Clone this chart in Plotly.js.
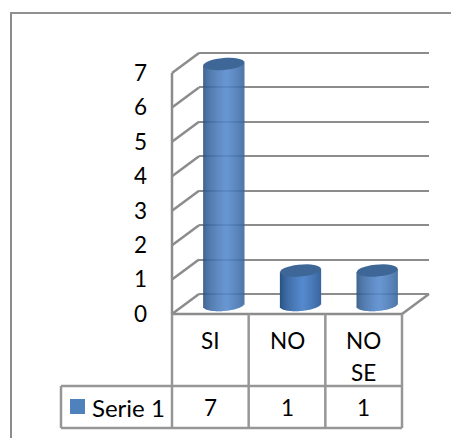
<!DOCTYPE html>
<html><head><meta charset="utf-8">
<script src="https://cdn.plot.ly/plotly-3.0.1.min.js"></script>
<style>html,body{margin:0;padding:0;background:#fff}</style></head>
<body><div id="chart" style="width:451px;height:438px"></div>
<script>
const categories = ['SI', 'NO', 'NO SE'];
const serieName = 'Serie 1';
const serieValues = [7, 1, 1];
const yTicks = [0, 1, 2, 3, 4, 5, 6, 7];

const W = 451, H = 438, FONT = 'Lato, Carlito, sans-serif', FS = 22.5;
const GRID = '#8c8c8c', TABLE = '#969696', BLUE = '#4F81BD';
// front plane and depth of the fake 3D box, in page pixels
const FL = 172, FR = 402, FB = 314, FT = 73, DX = 27, DY = 20;
const unitX = (FR - FL) / categories.length, unitY = (FB - FT) / 7;
const px = p => p / W, py = p => 1 - p / H;
const dxData = p => p / unitX, dyData = p => p / unitY;

// cylinder geometry
const RX = 20.5, RY = 6, TILT = -1.6, SHIFTX = 13.5, SHIFTY = 9;
const shade = u => { // u in [-1,1]; dark edges, light centre-right
  const t = Math.pow(Math.max(0, 1 - Math.abs(u - 0.12) / 1.12), 0.6);
  const a = [38, 76, 122], b = [86, 138, 206];
  return `rgb(${a.map((c, i) => Math.round(c + (b[i] - c) * t)).join(',')})`;
};

const sx = [], sy = [], sb = [], sc = [], sw = [];
const cx = categories.map((c, i) => i + dxData(SHIFTX));
serieValues.forEach((v, i) => {
  for (let p = -RX; p < RX; p += 1) {
    const mid = p + 0.5, u = mid / RX, curve = Math.sqrt(Math.max(0, 1 - u * u));
    const bottom = dyData(SHIFTY) - dyData(TILT * u + RY * curve);
    const top = v + dyData(SHIFTY) - dyData(TILT * u);
    sx.push(cx[i] + dxData(mid));
    sb.push(bottom); sy.push(top - bottom);
    sc.push(shade(u)); sw.push(dxData(1.25));
  }
});

const ellipse = (v, i) => {
  const pts = [];
  for (let a = 0; a < 360; a += 12) {
    const r = a * Math.PI / 180, u = Math.cos(r);
    const xx = cx[i] + dxData(RX * u);
    const yy = v + dyData(SHIFTY) - dyData(TILT * u + RY * Math.sin(r));
    pts.push((a ? 'L' : 'M') + xx.toFixed(4) + ',' + yy.toFixed(4));
  }
  return { type: 'path', xref: 'x2', yref: 'y2', path: pts.join(' ') + ' Z', fillcolor: '#3E6797', line: { width: 0 }, layer: 'above' };
};
const pl = (x0, y0, x1, y1, color, width) => ({ type: 'line', xref: 'paper', yref: 'paper', x0: px(x0), y0: py(y0), x1: px(x1), y1: py(y1), line: { color, width }, layer: 'below' });

const shapes = [];
// outer frame: only left and top edges fall inside the picture
shapes.push(pl(11, 13, 11, H, '#8c8c8c', 2), pl(10, 13, W, 13, '#909090', 2));
// wall diagonals and floor
yTicks.forEach(t => {
  const y = FB - t * unitY;
  shapes.push(pl(FL, y, FL + DX, y - DY, GRID, 2.5));
});
shapes.push(pl(FR, FB, FR + DX, FB - DY, GRID, 2.5));
shapes.push(pl(FL, FB, FL, FT, GRID, 2.5));
shapes.push(pl(FL, FB, FR, FB, GRID, 2.5));
// data table
[FL, FL + unitX, FL + 2 * unitX, FR].forEach(x => shapes.push(pl(x, FB, x, 428, TABLE, 2.5)));
shapes.push(pl(61, 386, FR, 386, TABLE, 2.5), pl(61, 428, FR, 428, TABLE, 2.5), pl(61, 386, 61, 428, TABLE, 2.5));
// legend key
shapes.push({ type: 'rect', xref: 'paper', yref: 'paper', x0: px(70), x1: px(85), y0: py(399), y1: py(414), fillcolor: BLUE, line: { width: 0 }, layer: 'below' });
serieValues.forEach((v, i) => shapes.push(ellipse(v, i)));

const ann = (text, x, y) => ({ text, x: px(x), y: py(y), xref: 'paper', yref: 'paper', showarrow: false, xanchor: 'center', yanchor: 'middle', font: { family: FONT, size: FS, color: '#000' } });
const annotations = [];
categories.forEach((c, i) => {
  const cxp = FL + (i + 0.5) * unitX;
  c.split(' ').forEach((w, j) => annotations.push(ann(w, cxp, 340 + j * 32)));
  annotations.push(ann(String(serieValues[i]), cxp, 407));
});
annotations.push(Object.assign(ann(serieName, 90, 407), { xanchor: 'left', font: { family: FONT, size: 24, color: '#000' } }));

const traces = [
  { type: 'bar', name: serieName, x: sx, y: sy, base: sb, width: sw, xaxis: 'x2', yaxis: 'y2', marker: { color: sc, line: { width: 0 } }, showlegend: false, hoverinfo: 'skip' },
  { type: 'scatter', x: [0], y: [0], xaxis: 'x', yaxis: 'y', mode: 'none', showlegend: false, hoverinfo: 'skip' }
];

const layout = {
  width: W, height: H, margin: { l: 0, r: 0, t: 0, b: 0 }, paper_bgcolor: '#fff', plot_bgcolor: 'rgba(0,0,0,0)',
  barmode: 'overlay', showlegend: false,
  // back wall: carries the gridlines (range padded so the end lines are kept)
  xaxis: { domain: [px(FL + DX), px(FR + DX)], range: [0, 1], showgrid: false, showticklabels: false, zeroline: false, ticks: '', anchor: 'y' },
  yaxis: { domain: [py(FB - DY + unitY), py(FT - DY - unitY)], range: [-1, 8], tickvals: yTicks, showgrid: true, gridcolor: GRID, gridwidth: 2, showticklabels: false, zeroline: false, ticks: '', anchor: 'x' },
  // front plane: carries the bars and the tick labels
  xaxis2: { domain: [px(FL), px(FR)], range: [-0.5, 2.5], showgrid: false, showticklabels: false, zeroline: false, ticks: '', anchor: 'y2' },
  yaxis2: { domain: [py(FB), py(FT - unitY)], range: [0, 8], tickvals: yTicks, showgrid: false, zeroline: false, ticks: '', anchor: 'x2', ticklabelstandoff: 24, tickfont: { family: FONT, size: FS, color: '#000' } },
  shapes, annotations
};
Plotly.newPlot('chart', traces, layout, { staticPlot: true, displayModeBar: false });
</script></body></html>
